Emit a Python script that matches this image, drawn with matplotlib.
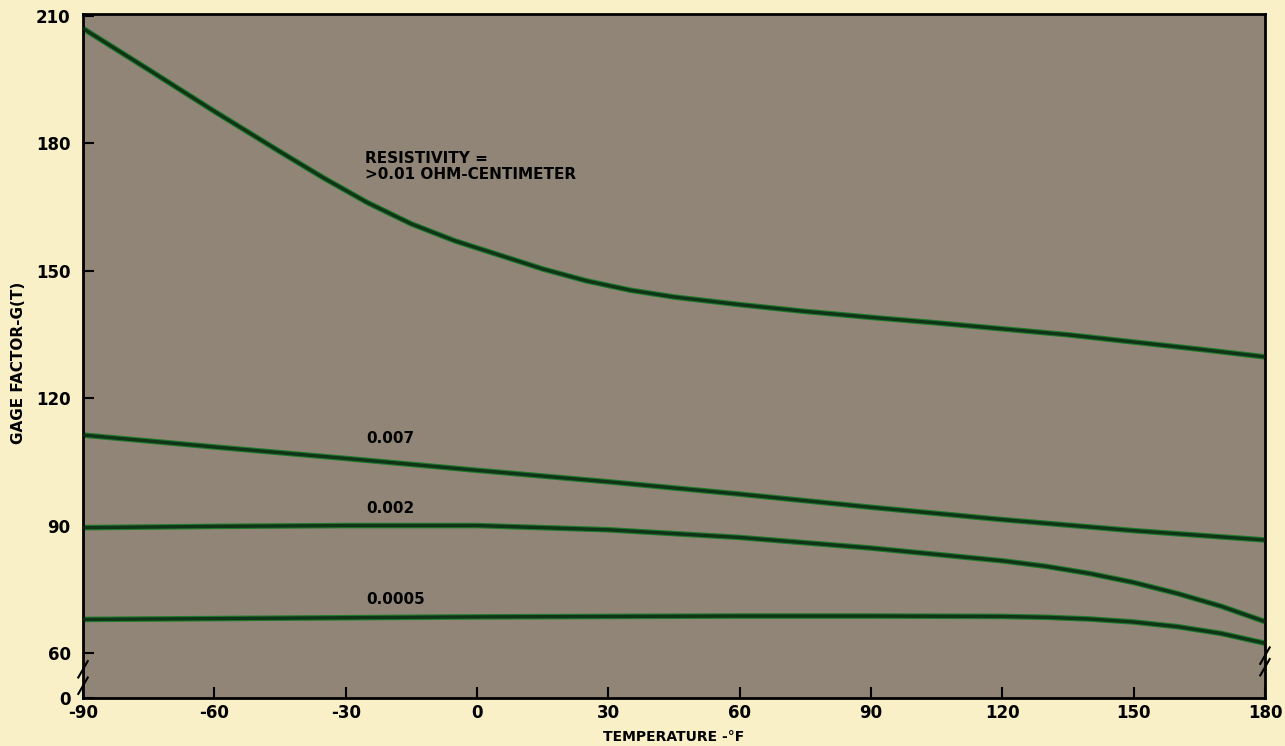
import numpy as np
import matplotlib
matplotlib.use("Agg")
import matplotlib.pyplot as plt

plt.rcParams["font.family"] = ["DejaVu Sans"]

# --- data (temperature in deg F, gage factor) ---
temp_top = [-90, -75, -60, -45, -35, -25, -15, -5, 5, 15, 25, 35, 45, 60, 75, 90,
            105, 120, 135, 150, 165, 180]
gf_top = [207, 197.3, 187.5, 178.0, 171.8, 166.0, 161.0, 157.0, 153.7, 150.4, 147.6, 145.4,
          143.8, 142.0, 140.4, 139.0, 137.7, 136.3, 134.9, 133.2, 131.5, 129.7]

temp_007 = [-90, -60, -30, 0, 30, 60, 90, 120, 150, 180]
gf_007 = [111.3, 108.5, 105.8, 103.0, 100.3, 97.4, 94.3, 91.4, 88.8, 86.6]

temp_002 = [-90, -60, -30, 0, 30, 60, 90, 120, 130, 140, 150, 160, 170, 180]
gf_002 = [89.5, 89.8, 90.0, 90.0, 89.0, 87.2, 84.7, 81.7, 80.4, 78.7, 76.6, 74.0, 71.0, 67.4]

temp_0005 = [-90, -60, -30, 0, 30, 60, 90, 120, 130, 140, 150, 160, 170, 180]
gf_0005 = [67.9, 68.1, 68.3, 68.5, 68.6, 68.7, 68.7, 68.6, 68.4, 68.0, 67.3, 66.2, 64.6, 62.3]

x_ticks = [-90, -60, -30, 0, 30, 60, 90, 120, 150, 180]
y_ticks = [60, 90, 120, 150, 180, 210]
Y_BOTTOM = 49.4  # broken axis: bottom edge is labelled "0"

BG_FIG = "#f9f0c8"
BG_AX = "#908576"
LINE_GLOW = "#1e7a2a"
LINE_CORE = "#0e2814"

fig = plt.figure(figsize=(12.85, 7.46), dpi=100, facecolor=BG_FIG)
ax = fig.add_axes([0.0646, 0.0643, 0.9198, 0.9169])
ax.set_facecolor(BG_AX)

for t, g in [(temp_top, gf_top), (temp_007, gf_007), (temp_002, gf_002), (temp_0005, gf_0005)]:
    ax.plot(t, g, color=LINE_GLOW, linewidth=4.0, solid_capstyle="round",
            solid_joinstyle="round", zorder=2)
    ax.plot(t, g, color=LINE_CORE, linewidth=2.4, alpha=0.85, solid_capstyle="round",
            solid_joinstyle="round", zorder=3)

ax.set_xlim(-90, 180)
ax.set_ylim(Y_BOTTOM, 210.4)

ax.set_xticks(x_ticks)
ax.set_xticklabels([str(v) for v in x_ticks], fontweight="bold")
ax.set_yticks([Y_BOTTOM] + y_ticks)
ax.set_yticklabels(["0"] + [str(v) for v in y_ticks], fontweight="bold")
ax.tick_params(axis="both", direction="in", length=8, width=1.5, color="black",
               labelsize=12, labelcolor="black")
ax.tick_params(axis="x", pad=4)
ax.tick_params(axis="y", pad=9)

for s in ax.spines.values():
    s.set_linewidth(2)
    s.set_color("black")

ax.set_xlabel("TEMPERATURE -°F", fontsize=10, fontweight="bold", labelpad=6)
ax.set_ylabel("GAGE FACTOR-G(T)", fontsize=11, fontweight="bold")
ax.yaxis.set_label_coords(-0.048, 0.49)

# curve labels
ax.text(-25.6, 174.5, "RESISTIVITY =\n>0.01 OHM-CENTIMETER", fontsize=11,
        fontweight="bold", va="center", ha="left", linespacing=1.05)
ax.text(-25.4, 110.6, "0.007", fontsize=11, fontweight="bold", va="center", ha="left")
ax.text(-25.4, 94.0, "0.002", fontsize=11, fontweight="bold", va="center", ha="left")
ax.text(-25.4, 72.5, "0.0005", fontsize=11, fontweight="bold", va="center", ha="left")

# axis break marks on both vertical spines
for xa, ys in [(0.0, [0.018, 0.042]), (1.0, [0.045, 0.062])]:
    for ya in ys:
        ax.plot([xa - 0.004, xa + 0.004], [ya - 0.012, ya + 0.012],
                transform=ax.transAxes, color="black", linewidth=1.5,
                clip_on=False, zorder=5)

fig.savefig("out.png", dpi=100, facecolor=BG_FIG)
